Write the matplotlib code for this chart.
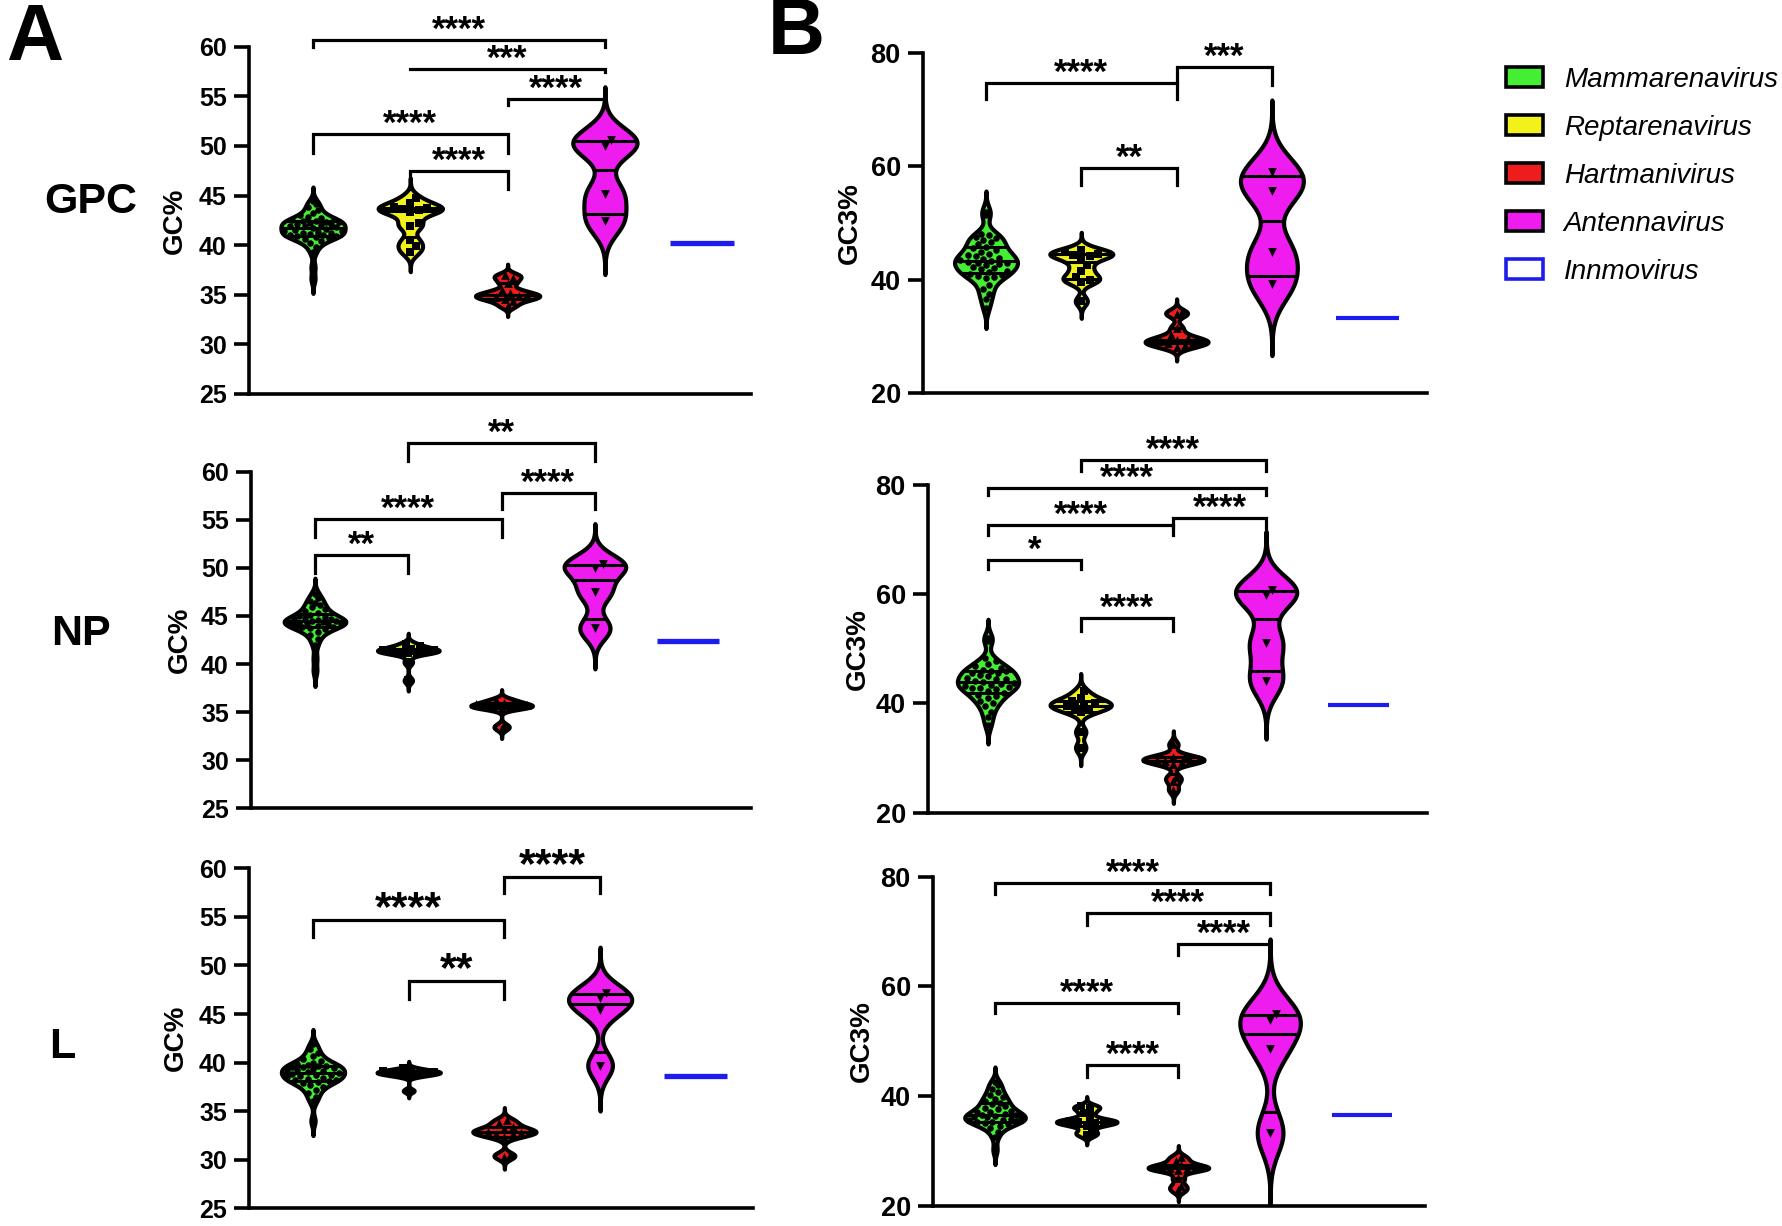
import numpy as np
import matplotlib
matplotlib.use('Agg')
import matplotlib.pyplot as plt
from matplotlib.patches import Patch

plt.rcParams['font.family'] = ['Liberation Sans', 'DejaVu Sans']
plt.rcParams['font.weight'] = 'bold'

W, H, DPI = 1783, 1226, 100

# ============ #
# === Data === #
# ============ #

GROUPS = ['Mammarenavirus', 'Reptarenavirus', 'Hartmanivirus', 'Antennavirus', 'Innmovirus']

# --- GC% ---
gpc_gc_mamm = [36.6, 37.8, 39.3, 39.8, 40.2, 40.4, 40.6, 40.7, 40.8, 40.9, 40.95, 41.0, 41.0, 41.1,
               41.2, 41.2, 41.3, 41.4, 41.45, 41.5, 41.6, 41.7, 41.8, 41.9, 41.95, 42.0, 42.1, 42.1,
               42.2, 42.3, 42.3, 42.4, 42.45, 42.5, 42.6, 42.7, 42.8, 43.0, 43.2, 43.5, 43.8, 44.1, 44.4]
gpc_gc_rept = [39.3, 39.9, 40.5, 41.9, 42.2, 43.3, 43.5, 43.6, 43.7, 43.8, 44.2, 44.8]
gpc_gc_hart = [33.9, 34.4, 34.6, 34.8, 34.9, 35.0, 35.2, 35.5, 36.2, 36.7, 37.0]
gpc_gc_ant = [42.4, 45.2, 50.0, 50.6]
gpc_gc_innmo = 40.2

np_gc_mamm = [39.3, 40.6, 42.0, 42.6, 43.0, 43.3, 43.6, 43.7, 43.8, 43.9, 44.0, 44.1, 44.15, 44.2,
              44.25, 44.3, 44.3, 44.4, 44.45, 44.5, 44.6, 44.65, 44.7, 44.8, 44.9, 45.0, 45.1, 45.3,
              45.5, 45.7, 45.9, 46.1, 46.3, 46.6, 46.9, 47.3]
np_gc_rept = [38.3, 40.2, 41.1, 41.2, 41.3, 41.35, 41.4, 41.45, 41.5, 41.6, 41.9, 42.1]
np_gc_hart = [33.3, 33.6, 35.4, 35.5, 35.55, 35.6, 35.65, 35.7, 35.8, 36.0, 36.2, 36.3]
np_gc_ant = [43.7, 47.5, 50.0, 50.4]
np_gc_innmo = 42.4

l_gc_mamm = [34.0, 36.0, 36.5, 36.9, 37.2, 37.5, 37.7, 37.9, 38.0, 38.1, 38.2, 38.25, 38.3, 38.4,
             38.5, 38.6, 38.7, 38.75, 38.8, 38.9, 39.0, 39.1, 39.2, 39.25, 39.3, 39.4, 39.5, 39.55,
             39.6, 39.7, 39.8, 39.9, 40.0, 40.2, 40.4, 40.7, 41.0, 41.4, 41.9]
l_gc_rept = [37.1, 38.6, 38.75, 38.85, 38.9, 39.0, 39.05, 39.1, 39.2, 39.4]
l_gc_hart = [30.3, 30.5, 32.3, 32.6, 32.7, 32.8, 32.9, 33.0, 33.2, 33.4, 33.8, 34.1]
l_gc_ant = [39.7, 45.4, 46.6, 47.2]
l_gc_innmo = 38.6

# --- GC3% ---
gpc_gc3_mamm = [35.0, 36.5, 37.5, 38.3, 39.0, 40.3, 40.5, 40.6, 40.8, 41.0, 41.3, 41.5, 41.8, 42.0,
                42.3, 42.5, 42.7, 42.9, 43.0, 43.1, 43.3, 43.5, 43.7, 43.9, 44.1, 44.3, 44.6, 44.9,
                45.2, 45.5, 45.8, 46.2, 46.6, 47.0, 47.3, 47.6, 47.8, 48.0, 51.5, 52.0]
gpc_gc3_rept = [36.2, 39.6, 40.0, 40.4, 41.5, 42.5, 43.8, 44.2, 44.4, 44.6, 44.9, 45.3]
gpc_gc3_hart = [28.0, 28.4, 28.7, 28.9, 29.1, 29.3, 29.6, 30.2, 31.5, 33.9, 34.2]
gpc_gc3_ant = [39.2, 44.9, 55.7, 59.1]
gpc_gc3_innmo = 33.2

np_gc3_mamm = [36.0, 37.5, 38.5, 39.5, 40.0, 40.5, 41.0, 41.3, 41.6, 42.0, 42.3, 42.6, 42.8, 42.9,
               43.0, 43.2, 43.4, 43.6, 43.8, 44.0, 44.2, 44.4, 44.5, 44.7, 45.0, 45.3, 45.5, 45.6,
               45.9, 46.0, 46.2, 46.5, 46.8, 47.2, 47.7, 48.3, 51.5, 52.0]
np_gc3_rept = [31.9, 34.8, 38.4, 39.0, 39.3, 39.6, 39.8, 40.1, 40.5, 41.0, 42.2]
np_gc3_hart = [24.2, 25.8, 26.6, 28.9, 29.3, 29.5, 29.6, 29.7, 29.9, 30.2, 30.4, 32.5]
np_gc3_ant = [44.2, 51.1, 59.9, 60.8]
np_gc3_innmo = 39.7

l_gc3_mamm = [30.2, 32.5, 33.5, 34.2, 34.6, 34.9, 35.1, 35.2, 35.3, 35.5, 35.6, 35.7, 35.8, 36.0,
              36.1, 36.2, 36.4, 36.5, 36.6, 36.8, 37.0, 37.1, 37.3, 37.6, 37.9, 38.2, 38.5, 38.8,
              39.1, 39.4, 39.8, 40.2, 40.7, 41.3, 42.0, 42.6]
l_gc3_rept = [32.9, 33.5, 34.6, 35.0, 35.2, 35.3, 35.5, 35.8, 36.9, 37.8, 38.1]
l_gc3_hart = [22.8, 23.6, 25.0, 26.5, 26.7, 26.8, 26.9, 27.1, 27.4, 28.2, 28.9]
l_gc3_ant = [33.3, 48.6, 53.9, 55.0]
l_gc3_innmo = 36.5

# --- significance: (group a, group b, label) ---
gpc_gc_pairs = [(0, 3, '****'), (1, 3, '***'), (2, 3, '****'), (0, 2, '****'), (1, 2, '****')]
np_gc_pairs = [(1, 3, '**'), (2, 3, '****'), (0, 2, '****'), (0, 1, '**')]
l_gc_pairs = [(2, 3, '****'), (0, 2, '****'), (1, 2, '**')]
gpc_gc3_pairs = [(0, 2, '****'), (2, 3, '***'), (1, 2, '**')]
np_gc3_pairs = [(1, 3, '****'), (0, 3, '****'), (2, 3, '****'), (0, 2, '****'), (0, 1, '*'), (1, 2, '****')]
l_gc3_pairs = [(0, 3, '****'), (1, 3, '****'), (2, 3, '****'), (0, 2, '****'), (1, 2, '****')]

# ============== #
# === Layout === #
# ============== #

COLORS = ['#44ee33', '#f2f21a', '#ee1c1c', '#ee1cee', '#1c1cee']
MARKERS = ['o', 's', '^', 'v']
HALF_W = 0.33

# bracket heights: (bar, left tick end, right tick end)
gpc_gc_levels = [(60.68, 60.0, 60.0), (57.72, 57.72, 57.5), (54.70, 54.12, 54.4),
                 (51.17, 49.25, 49.25), (47.47, 45.63, 45.63)]
np_gc_levels = [(62.95, 61.11, 61.11), (57.82, 56.09, 56.09), (55.05, 53.24, 53.24), (51.34, 49.5, 49.5)]
l_gc_levels = [(59.14, 57.43, 57.43), (54.68, 52.9, 52.9), (48.4, 46.5, 46.5)]
gpc_gc3_levels = [(74.8, 71.87, 71.87), (77.63, 74.8, 74.4), (59.78, 56.72, 56.72)]
np_gc3_levels = [(84.58, 82.62, 82.62), (79.39, 78.17, 78.17), (73.9, 72.25, 72.07),
                 (72.68, 70.84, 70.84), (66.27, 64.56, 64.56), (55.59, 53.32, 53.32)]
l_gc3_levels = [(78.9, 76.84, 76.84), (73.32, 71.19, 71.19), (67.73, 65.72, 65.72),
                (57.02, 55.2, 55.2), (45.66, 43.52, 43.52)]

# pixel box: x0, x1, y_top, y_bottom, first category x, category spacing
panels = [
    dict(groups=[gpc_gc_mamm, gpc_gc_rept, gpc_gc_hart, gpc_gc_ant], innmo=gpc_gc_innmo,
         pairs=gpc_gc_pairs, levels=gpc_gc_levels, box=(249, 751, 46.7, 394, 313, 97.3),
         ylim=(25, 60), yticks=range(25, 61, 5), ylabel='GC%', ylab_x=175, tick_fs=18,
         star_fs=25, line_w=3.8),
    dict(groups=[np_gc_mamm, np_gc_rept, np_gc_hart, np_gc_ant], innmo=np_gc_innmo,
         pairs=np_gc_pairs, levels=np_gc_levels, box=(251, 751, 471.7, 808.3, 315, 93.3),
         ylim=(25, 60), yticks=range(25, 61, 5), ylabel='GC%', ylab_x=180, tick_fs=18,
         star_fs=25, line_w=3.8),
    dict(groups=[l_gc_mamm, l_gc_rept, l_gc_hart, l_gc_ant], innmo=l_gc_innmo,
         pairs=l_gc_pairs, levels=l_gc_levels, box=(249, 753, 868.3, 1208.3, 313, 95.7),
         ylim=(25, 60), yticks=range(25, 61, 5), ylabel='GC%', ylab_x=176, tick_fs=18,
         star_fs=31, line_w=3.8),
    dict(groups=[gpc_gc3_mamm, gpc_gc3_rept, gpc_gc3_hart, gpc_gc3_ant], innmo=gpc_gc3_innmo,
         pairs=gpc_gc3_pairs, levels=gpc_gc3_levels, box=(923, 1427, 53.3, 392.7, 986, 95.3),
         ylim=(20, 80), yticks=range(20, 81, 20), ylabel='GC3%', ylab_x=850, tick_fs=19.5,
         star_fs=25, line_w=3.0),
    dict(groups=[np_gc3_mamm, np_gc3_rept, np_gc3_hart, np_gc3_ant], innmo=np_gc3_innmo,
         pairs=np_gc3_pairs, levels=np_gc3_levels, box=(928, 1427, 485, 812.7, 988, 92.7),
         ylim=(20, 80), yticks=range(20, 81, 20), ylabel='GC3%', ylab_x=858, tick_fs=19.5,
         star_fs=25, line_w=3.0),
    dict(groups=[l_gc3_mamm, l_gc3_rept, l_gc3_hart, l_gc3_ant], innmo=l_gc3_innmo,
         pairs=l_gc3_pairs, levels=l_gc3_levels, box=(933, 1425, 876.7, 1205.7, 995, 91.7),
         ylim=(20, 80), yticks=range(20, 81, 20), ylabel='GC3%', ylab_x=862, tick_fs=19.5,
         star_fs=25, line_w=3.0),
]


def kde(vals, grid, bw):
    vals = np.asarray(vals)
    return np.exp(-0.5 * ((grid[:, None] - vals[None, :]) / bw) ** 2).sum(axis=1)


def swarm(ax, xc, vals, diam, grid, half):
    # greedy beeswarm in pixel space, kept inside the violin outline
    p0 = ax.transData.transform((0, 0))
    p1 = ax.transData.transform((1, 1))
    sx, sy = p1[0] - p0[0], p1[1] - p0[1]
    vals = np.asarray(vals)
    xs = np.zeros(len(vals))
    placed = []
    step = diam * 0.4
    for idx in np.argsort(vals):
        y = vals[idx] * sy
        lim = max(np.interp(vals[idx], grid, half) * sx - diam * 0.45, 0.0)
        cands = [0.0]
        k = 1
        while k * step <= lim:
            cands += [k * step, -k * step]
            k += 1
        best, best_d = 0.0, -1.0
        for c in cands:
            d = min([np.hypot(c - px, y - py) for px, py in placed] + [1e9])
            if d >= diam:
                best = c
                break
            if d > best_d:
                best, best_d = c, d
        placed.append((best, y))
        xs[idx] = xc + best / sx
    return xs


fig = plt.figure(figsize=(W / DPI, H / DPI), dpi=DPI)

for p in panels:
    x0, x1, yt, yb, c0, sp = p['box']
    ax = fig.add_axes([x0 / W, 1 - yb / H, (x1 - x0) / W, (yb - yt) / H])
    ax.set_xlim((x0 - c0) / sp, (x1 - c0) / sp)
    ax.set_ylim(*p['ylim'])
    for s in ['top', 'right']:
        ax.spines[s].set_visible(False)
    for s in ['left', 'bottom']:
        ax.spines[s].set_linewidth(2.6)
    ax.set_xticks([])
    ax.set_yticks(list(p['yticks']))
    ax.tick_params(axis='y', length=11, width=2.6, pad=5, labelsize=p['tick_fs'])
    for lab in ax.get_yticklabels():
        lab.set_fontweight('bold')

    # violins
    for i, vals in enumerate(p['groups']):
        v = np.asarray(vals)
        big = len(v) > 20
        bw = (0.7 if big else 0.5) * v.std(ddof=1) * len(v) ** (-0.2)
        cut = 3.0 if big else 3.6
        grid = np.linspace(v.min() - cut * bw, v.max() + cut * bw, 500)
        dens = kde(v, grid, bw)
        half = HALF_W * dens / dens.max()
        ax.fill_betweenx(grid, i - half, i + half, facecolor=COLORS[i], edgecolor='black',
                         linewidth=3.0, zorder=2)
        for q in np.percentile(v, [25, 50, 75], method='weibull'):
            hq = np.interp(q, grid, half)
            ax.plot([i - hq, i + hq], [q, q], color='black', lw=2.2, zorder=3)
        xs = swarm(ax, i, v, 6.5 if big else 7.0, grid, half)
        ax.scatter(xs, v, s=22 if big else 40, marker=MARKERS[i], color='black',
                   linewidths=0, zorder=4)

    # single Innmovirus value
    ax.hlines(p['innmo'], 4 - HALF_W, 4 + HALF_W, color=COLORS[4], lw=p['line_w'], zorder=3)

    # significance brackets
    for (a, b, lab), (bar, tl, tr) in zip(p['pairs'], p['levels']):
        ax.plot([a, a, b, b], [tl, bar, bar, tr], color='black', lw=2.3, clip_on=False,
                solid_joinstyle='miter', zorder=5)
        ax.text((a + b) / 2, bar, lab, ha='center', va='baseline', fontsize=p['star_fs'],
                fontweight='bold', clip_on=False)

    fig.text(p['ylab_x'] / W, 1 - (yt + yb) / 2 / H, p['ylabel'], rotation=90, ha='center',
             va='center', fontsize=20, fontweight='bold')

# panel letters and row labels
fig.text(35 / W, 1 - 39 / H, 'A', ha='center', va='center', fontsize=57, fontweight='bold')
fig.text(796 / W, 1 - 34 / H, 'B', ha='center', va='center', fontsize=57, fontweight='bold')
for lab, (px, py) in zip(['GPC', 'NP', 'L'], [(91, 202), (81, 634), (62, 1047)]):
    fig.text(px / W, 1 - py / H, lab, ha='center', va='center', fontsize=31, fontweight='bold')

# legend
handles = [Patch(facecolor=c, edgecolor='black', linewidth=2.6) for c in COLORS[:4]]
handles.append(Patch(facecolor='white', edgecolor=COLORS[4], linewidth=2.6))
fig.legend(handles, GROUPS, loc='upper left', bbox_to_anchor=(1506 / W, 1 - 67 / H),
           frameon=False, prop=dict(family='Liberation Sans', style='italic', weight='normal', size=20),
           handlelength=1.33, handleheight=0.72, handletextpad=0.75, labelspacing=0.79,
           borderpad=0, borderaxespad=0)

fig.savefig('out.png', dpi=DPI)
